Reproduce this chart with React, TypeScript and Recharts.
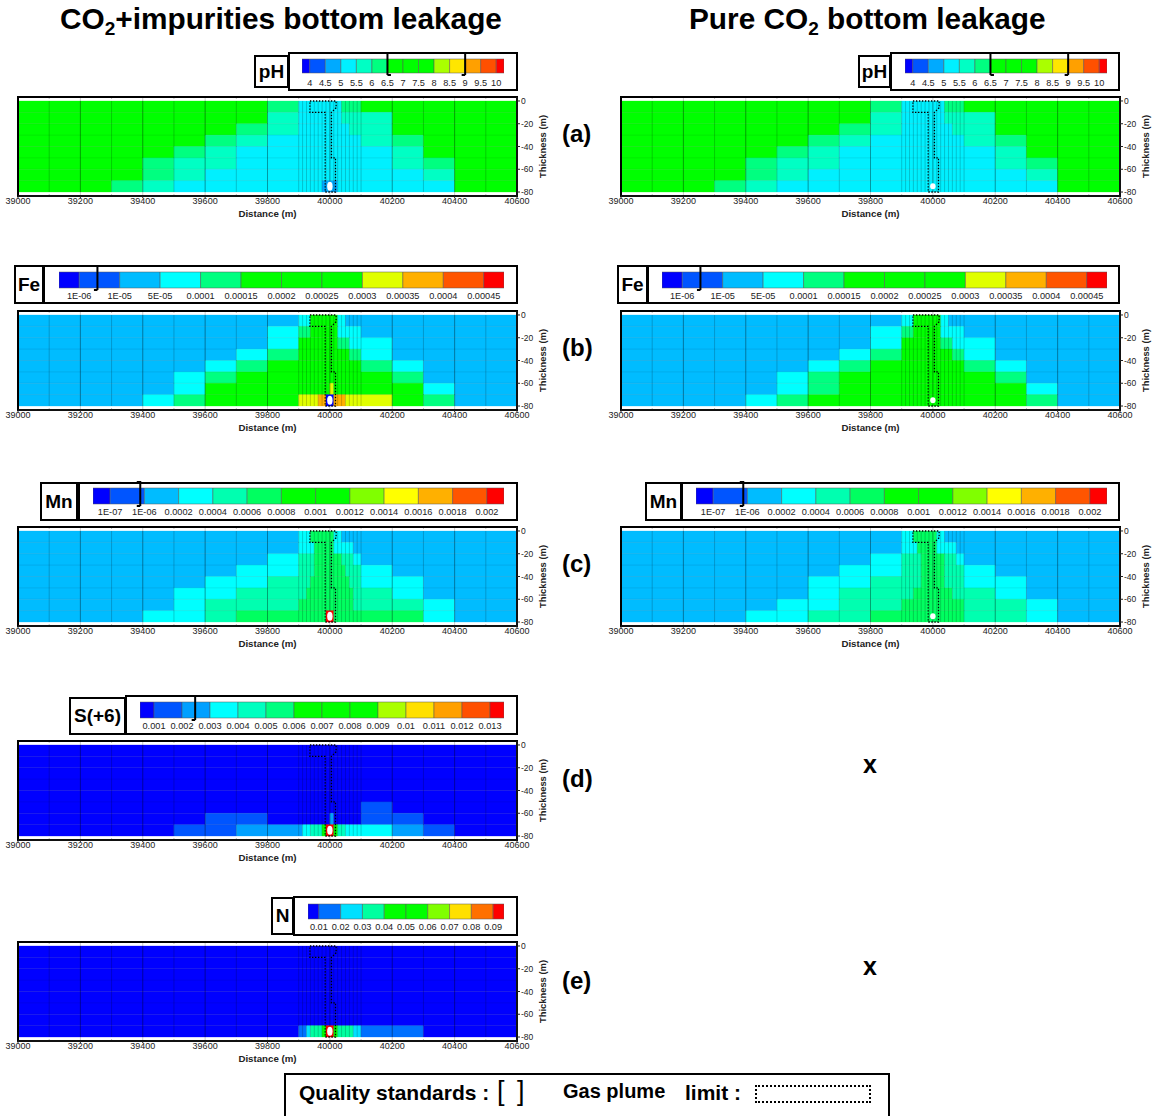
import React from "react"
import {
  ComposedChart,
  XAxis,
  YAxis,
  Scatter,
  ReferenceArea,
  ReferenceLine,
} from "recharts"

const FONT = '"Liberation Sans", Arial, sans-serif'

// grid column edges (m): 100 m cells, refined around the well at 40000
const xEdges = [
  39000, 39100, 39200, 39300, 39400, 39500, 39600, 39700, 39800, 39900,
  39912.5, 39925, 39937.5, 39950, 39962.5, 39975, 39987.5, 40000,
  40012.5, 40025, 40037.5, 40050, 40062.5, 40075, 40087.5, 40100,
  40200, 40300, 40400, 40500, 40600,
]
const layerEdges = [0, -10, -20, -30, -40, -50, -60, -70, -80]
const xTicks = [39000, 39200, 39400, 39600, 39800, 40000, 40200, 40400, 40600]
const xMinorTicks = [39100, 39300, 39500, 39700, 39900, 40100, 40300, 40500]
const yTicks = [0, -20, -40, -60, -80]

// dotted gas plume limit
const plumeLimit = [
  { x: 39936, y: 0 }, { x: 40020, y: 0 }, { x: 40020, y: -6 }, { x: 40005, y: -10 },
  { x: 40005, y: -50 }, { x: 40018, y: -50 }, { x: 40018, y: -80 }, { x: 39985, y: -80 },
  { x: 39985, y: -10 }, { x: 39936, y: -10 }, { x: 39936, y: 0 },
]
const leakPoint = [{ x: 40000, y: -75 }]

// colour bars
const phLabels = ["4", "4.5", "5", "5.5", "6", "6.5", "7", "7.5", "8", "8.5", "9", "9.5", "10"]
const phColors = ["#0000ff", "#0055ff", "#00aaff", "#00f0ff", "#00ffc4", "#00ff80", "#00ff00", "#00ff00", "#00ff00", "#aaff00", "#ffe600", "#ffa000", "#ff5000", "#ff0000"]
const feLabels = ["1E-06", "1E-05", "5E-05", "0.0001", "0.00015", "0.0002", "0.00025", "0.0003", "0.00035", "0.0004", "0.00045"]
const feColors = ["#0000ff", "#0055ff", "#00bcff", "#00ffff", "#00ff80", "#00ff00", "#00ff00", "#00ff00", "#e0ff00", "#ffb000", "#ff5500", "#ff0000"]
const mnLabels = ["1E-07", "1E-06", "0.0002", "0.0004", "0.0006", "0.0008", "0.001", "0.0012", "0.0014", "0.0016", "0.0018", "0.002"]
const mnColors = ["#0000ff", "#0055ff", "#00bcff", "#00ffff", "#00ffb0", "#00ff60", "#00ff00", "#00ff00", "#80ff00", "#ffff00", "#ffb000", "#ff5500", "#ff0000"]
const sLabels = ["0.001", "0.002", "0.003", "0.004", "0.005", "0.006", "0.007", "0.008", "0.009", "0.01", "0.011", "0.012", "0.013"]
const sColors = ["#0000ff", "#0055ff", "#00a0ff", "#00ffff", "#00ffc0", "#00ff80", "#00ff00", "#00ff00", "#00ff00", "#aaff00", "#ffe000", "#ffa000", "#ff5000", "#ff0000"]
const nLabels = ["0.01", "0.02", "0.03", "0.04", "0.05", "0.06", "0.07", "0.08", "0.09"]
const nColors = ["#0000ff", "#0070ff", "#00e0ff", "#00ffa0", "#00ff00", "#00ff00", "#80ff00", "#ffe000", "#ff7000", "#ff0000"]

// colour band of each cell, hex digit per column: 9 coarse, 16 fine, 5 coarse
const phImpure = [
  "666666665 3333333333355555 66666",
  "666666664 3333333333344444 46666",
  "666666654 3333333333333444 46666",
  "666666543 3333333333333333 45666",
  "666665433 3333333333333333 34666",
  "666654433 3333333333333333 34566",
  "666654333 3333333333333333 33466",
  "666543333 3333332222333333 33366",
]
const phPure = [
  "666666665 3333333333355555 66666",
  "666666664 3333333333344444 46666",
  "666666654 3333333333333444 46666",
  "666666543 3333333333333333 45666",
  "666665433 3333333333333333 34666",
  "666654433 3333333333333333 34566",
  "666654333 3333333333333333 33466",
  "666543333 3333333333333333 33366",
]
const feImpure = [
  "222222222 3335555555332222 22222",
  "222222223 4445555555333333 22222",
  "222222223 5555555555444333 32222",
  "222222234 5555555555555444 32222",
  "222222345 5555555555555555 43222",
  "222223455 5555555555555555 54222",
  "222223555 5555555585555555 55322",
  "222234555 8888899009998888 85422",
]
const fePure = [
  "222222222 3335555555332222 22222",
  "222222223 4445555555333333 22222",
  "222222223 5555555555444333 32222",
  "222222234 5555555555555444 32222",
  "222222345 5555555555555555 43222",
  "222223455 5555555555555555 54222",
  "222223455 5555555555555555 55322",
  "222234555 5555555555555555 55422",
]
const mnImpure = [
  "222222222 3335555553322222 22222",
  "222222222 3333555553333322 22222",
  "222222223 4444555555544433 22222",
  "222222233 4444555555554444 32222",
  "222222334 4445555555555444 33222",
  "222223344 4455555555555544 43222",
  "222223444 5555555555555544 44322",
  "222233455 5555555cc5555555 55322",
]
const mnPure = [
  "222222222 3335555553322222 22222",
  "222222222 3333555553333322 22222",
  "222222223 4444455555544433 22222",
  "222222233 4444455555544444 32222",
  "222222334 4444455555544444 33222",
  "222222344 4445555555555444 43222",
  "222223344 5555555555555555 44322",
  "222233445 5555555555555555 44322",
]
const sImpure = [
  "000000000 0000000000000000 00000",
  "000000000 0000000000000000 00000",
  "000000000 0000000000000000 00000",
  "000000000 0000000000000000 00000",
  "000000000 0000000000000000 00000",
  "000000000 0000000000000000 10000",
  "000000110 0000000020000000 11000",
  "000001122 2334446dd6443333 32100",
]
const nImpure = [
  "000000000 0000000000000000 00000",
  "000000000 0000000000000000 00000",
  "000000000 0000000000000000 00000",
  "000000000 0000000000000000 00000",
  "000000000 0000000000000000 00000",
  "000000000 0000000000000000 00000",
  "000000000 0000000000000000 00000",
  "000000000 1123334994333322 11000",
]

type Section = {
  rows: string[]
  colors: string[]
  left: number
  top: number
  dotRy: number
}

function Section({ rows, colors, left, top, dotRy }: Section) {
  const cells: { x1: number; x2: number; y1: number; y2: number; band: number }[] = []
  rows.forEach((row, r) => {
    const bands = row.replace(/ /g, "")
    let start = 0
    for (let c = 1; c <= bands.length; c++) {
      if (bands[c] !== bands[start]) {
        cells.push({
          x1: xEdges[start],
          x2: xEdges[c],
          y1: layerEdges[r + 1],
          y2: layerEdges[r],
          band: parseInt(bands[start], 16),
        })
        start = c
      }
    }
  })

  return (
    <div style={{ position: "absolute", left, top: top - 4 }}>
      <ComposedChart width={569} height={129} margin={{ top: 4, right: 0, bottom: 0, left: 18 }}>
        <XAxis
          type="number"
          dataKey="x"
          domain={[39000, 40600]}
          ticks={xTicks}
          interval={0}
          height={26}
          tickSize={2}
          tickMargin={0}
          stroke="#222"
          tick={{ fontSize: 9, fill: "#222", fontFamily: FONT }}
          label={{ value: "Distance (m)", position: "insideBottom", offset: 5, fontSize: 9.7, fontWeight: "bold", fill: "#222", fontFamily: FONT }}
        />
        <YAxis
          type="number"
          dataKey="y"
          orientation="right"
          domain={[-83.5, 3.5]}
          ticks={yTicks}
          interval={0}
          width={52}
          tickSize={3}
          tickMargin={1}
          stroke="#222"
          tick={{ fontSize: 8.5, fill: "#222", fontFamily: FONT }}
          label={{ value: "Thickness (m)", angle: -90, position: "center", fontSize: 9.4, fontWeight: "bold", fill: "#222", fontFamily: FONT }}
        />
        {cells.map((c, i) => (
          <ReferenceArea
            key={i}
            x1={c.x1}
            x2={c.x2}
            y1={c.y1}
            y2={c.y2}
            fill={colors[c.band]}
            fillOpacity={1}
            stroke={colors[c.band]}
            strokeWidth={0.3}
          />
        ))}
        {layerEdges.slice(1, -1).map((y) => (
          <ReferenceLine key={y} y={y} stroke="#000" strokeOpacity={0.1} strokeWidth={0.8} />
        ))}
        {xEdges.slice(1, -1).map((x) => (
          <ReferenceLine
            key={x}
            segment={[{ x, y: 0 }, { x, y: -80 }]}
            stroke="#000"
            strokeOpacity={0.28}
            strokeWidth={0.7}
          />
        ))}
        {xTicks.map((x) => (
          <ReferenceLine key={x} x={x} stroke="#000" strokeOpacity={0.3} strokeWidth={0.7} />
        ))}
        {xMinorTicks.map((x) => (
          <React.Fragment key={x}>
            <ReferenceLine segment={[{ x, y: 3.5 }, { x, y: 2 }]} stroke="#000" strokeOpacity={0.5} strokeWidth={0.7} />
            <ReferenceLine segment={[{ x, y: -83.5 }, { x, y: -82 }]} stroke="#000" strokeOpacity={0.5} strokeWidth={0.7} />
          </React.Fragment>
        ))}
        <ReferenceArea
          x1={39000}
          x2={40600}
          y1={-83.5}
          y2={3.5}
          fill="none"
          stroke="#000"
          strokeWidth={2}
          ifOverflow="visible"
        />
        <Scatter
          data={plumeLimit}
          isAnimationActive={false}
          line={{ stroke: "#000", strokeWidth: 1.3, strokeDasharray: "1.4 1.6" }}
          shape={() => <g />}
        />
        <Scatter
          data={leakPoint}
          isAnimationActive={false}
          shape={(p: any) => <ellipse cx={p.cx} cy={p.cy} rx={2.7} ry={dotRy} fill="#fff" />}
        />
      </ComposedChart>
    </div>
  )
}

type BarProps = {
  labels: string[]
  colors: string[]
  left: number
  right: number
  top: number
  height: number
  labelGap?: number
  lower?: number
  upper?: number
}

function ColorBar({ labels, colors, left, right, top, height, labelGap = 2, lower, upper }: BarProps) {
  const last = labels.length - 1
  const width = right - left
  const serif = 3.5 / (width / labels.length)
  const ticks = labels.map((_, i) => i)
  const yMax = 1 + 7 / height
  const yMin = -2 / height
  const bracket = (x: number, dir: number) => (
    <React.Fragment key={x}>
      <ReferenceLine segment={[{ x, y: yMax }, { x, y: yMin }]} stroke="#000" strokeWidth={2} />
      <ReferenceLine segment={[{ x, y: yMax }, { x: x + dir * serif, y: yMax }]} stroke="#000" strokeWidth={2} />
      <ReferenceLine segment={[{ x, y: yMin }, { x: x + dir * serif, y: yMin }]} stroke="#000" strokeWidth={2} />
    </React.Fragment>
  )
  return (
    <div style={{ position: "absolute", left, top: top - 7 }}>
      <ComposedChart width={width} height={height + 9 + 16} margin={{ top: 0, right: 0, bottom: 0, left: 0 }}>
        <XAxis
          type="number"
          dataKey="x"
          domain={[-0.5, last + 0.5]}
          ticks={ticks}
          interval={0}
          height={16}
          axisLine={false}
          tickLine={false}
          tickSize={0}
          tickMargin={labelGap}
          tickFormatter={(i: number) => labels[i]}
          tick={{ fontSize: 9.2, fill: "#222", fontFamily: FONT }}
        />
        <YAxis type="number" dataKey="y" hide domain={[yMin, yMax]} />
        {colors.map((c, i) => (
          <ReferenceArea
            key={i}
            x1={i === 0 ? -0.5 : i - 1}
            x2={i === colors.length - 1 ? last + 0.5 : i}
            y1={0}
            y2={1}
            fill={c}
            fillOpacity={1}
            stroke="#555"
            strokeWidth={0.5}
          />
        ))}
        {lower !== undefined && bracket(lower, 1)}
        {upper !== undefined && bracket(upper, -1)}
        <Scatter
          data={ticks.map((x) => ({ x, y: 0.5 }))}
          isAnimationActive={false}
          shape={() => <g />}
        />
      </ComposedChart>
    </div>
  )
}

function Box({ x, y, w, h, text }: { x: number; y: number; w: number; h: number; text?: string }) {
  return (
    <div
      style={{
        position: "absolute",
        left: x,
        top: y,
        width: w,
        height: h,
        boxSizing: "border-box",
        border: "2px solid #000",
        background: "#fff",
        display: "flex",
        alignItems: "center",
        justifyContent: "center",
        fontFamily: FONT,
        fontWeight: "bold",
        fontSize: 19,
        color: "#000",
      }}
    >
      {text}
    </div>
  )
}

function Caption({ x, y, size, weight = "bold", children }: { x: number; y: number; size: number; weight?: string; children: React.ReactNode }) {
  return (
    <div
      style={{
        position: "absolute",
        left: x,
        top: y,
        fontFamily: FONT,
        fontWeight: weight,
        fontSize: size,
        lineHeight: 1,
        color: "#000",
        whiteSpace: "nowrap",
      }}
    >
      {children}
    </div>
  )
}

const sub = { fontSize: 19, verticalAlign: "-6px", lineHeight: 0 }

export default function App() {
  return (
    <div style={{ position: "absolute", left: 0, top: 0, width: 1158, height: 1116, background: "#fff", overflow: "hidden" }}>
      <Caption x={60} y={4} size={29.8}>CO<span style={sub}>2</span>+impurities bottom leakage</Caption>
      <Caption x={689} y={4} size={29.8}>Pure CO<span style={sub}>2</span> bottom leakage</Caption>

      <Box x={254} y={55} w={35} h={33} text="pH" />
      <Box x={288} y={52} w={230} h={39} />
      <ColorBar labels={phLabels} colors={phColors} left={302} right={504} top={59} height={14} labelGap={4} lower={5} upper={10} />
      <Section rows={phImpure} colors={phColors} left={0} top={97} dotRy={4.5} />
      <Box x={858} y={55} w={33} h={33} text="pH" />
      <Box x={890} y={52} w={230} h={39} />
      <ColorBar labels={phLabels} colors={phColors} left={905} right={1107} top={59} height={14} labelGap={4} lower={5} upper={10} />
      <Section rows={phPure} colors={phColors} left={603} top={97} dotRy={3} />

      <Box x={14} y={265} w={30} h={39} text="Fe" />
      <Box x={43} y={265} w={475} h={39} />
      <ColorBar labels={feLabels} colors={feColors} left={59} right={504} top={272} height={16} upper={0.45} />
      <Section rows={feImpure} colors={feColors} left={0} top={311} dotRy={4.5} />
      <Box x={617} y={265} w={31} h={39} text="Fe" />
      <Box x={647} y={265} w={473} h={39} />
      <ColorBar labels={feLabels} colors={feColors} left={662} right={1107} top={272} height={16} upper={0.45} />
      <Section rows={fePure} colors={feColors} left={603} top={311} dotRy={3} />

      <Box x={40} y={482} w={38} h={39} text="Mn" />
      <Box x={78} y={482} w={440} h={39} />
      <ColorBar labels={mnLabels} colors={mnColors} left={93} right={504} top={488} height={16} upper={0.88} />
      <Section rows={mnImpure} colors={mnColors} left={0} top={527} dotRy={4.5} />
      <Box x={645} y={482} w={37} h={39} text="Mn" />
      <Box x={681} y={482} w={439} h={39} />
      <ColorBar labels={mnLabels} colors={mnColors} left={696} right={1107} top={488} height={16} upper={0.88} />
      <Section rows={mnPure} colors={mnColors} left={603} top={527} dotRy={3} />

      <Box x={69} y={697} w={57} h={38} text="S(+6)" />
      <Box x={125} y={695} w={393} h={40} />
      <ColorBar labels={sLabels} colors={sColors} left={140} right={504} top={702} height={16} upper={1.47} />
      <Section rows={sImpure} colors={sColors} left={0} top={741} dotRy={4.5} />

      <Box x={271} y={897} w={23} h={38} text="N" />
      <Box x={293} y={896} w={225} h={40} />
      <ColorBar labels={nLabels} colors={nColors} left={308} right={504} top={904} height={15} />
      <Section rows={nImpure} colors={nColors} left={0} top={942} dotRy={4.5} />

      <Caption x={562} y={122} size={24}>(a)</Caption>
      <Caption x={562} y={336} size={24}>(b)</Caption>
      <Caption x={562} y={552} size={24}>(c)</Caption>
      <Caption x={562} y={767} size={24}>(d)</Caption>
      <Caption x={562} y={969} size={24}>(e)</Caption>
      <Caption x={863} y={752} size={25}>x</Caption>
      <Caption x={863} y={954} size={25}>x</Caption>

      <div style={{ position: "absolute", left: 284, top: 1073, width: 606, height: 50, boxSizing: "border-box", border: "2px solid #000", background: "#fff" }} />
      <Caption x={299} y={1082} size={21}>Quality standards :</Caption>
      <Caption x={497} y={1078} size={27} weight="normal">[</Caption>
      <Caption x={517} y={1078} size={27} weight="normal">]</Caption>
      <Caption x={563} y={1081} size={20}>Gas plume</Caption>
      <Caption x={685} y={1082} size={21}>limit :</Caption>
      <div style={{ position: "absolute", left: 755, top: 1085, width: 116, height: 18, boxSizing: "border-box", border: "2px dotted #000" }} />
    </div>
  )
}
